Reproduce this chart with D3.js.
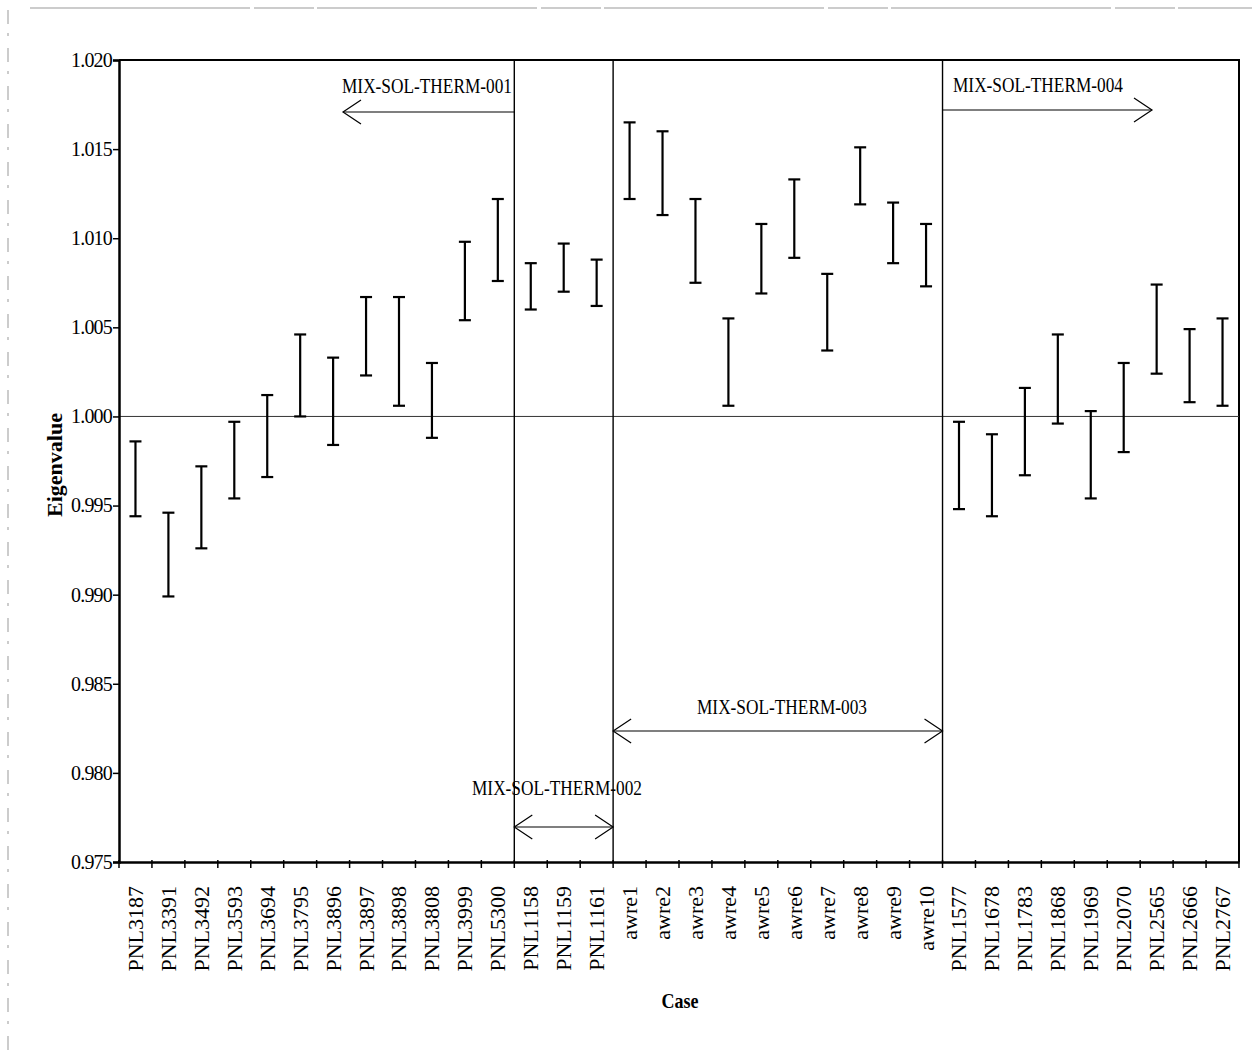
<!DOCTYPE html>
<html>
<head>
<meta charset="utf-8">
<script src="https://cdn.jsdelivr.net/npm/d3@7/dist/d3.min.js"></script>
<style>
  html, body { margin: 0; padding: 0; background: #fff; }
  svg { display: block; }
  text { font-family: "Liberation Serif", "Times New Roman", serif; fill: #000; }
</style>
</head>
<body>
<svg id="chart" width="1252" height="1060"></svg>
<script>
// ---- data ----
const categories = ["PNL3187","PNL3391","PNL3492","PNL3593","PNL3694","PNL3795","PNL3896","PNL3897","PNL3898","PNL3808","PNL3999","PNL5300",
  "PNL1158","PNL1159","PNL1161",
  "awre1","awre2","awre3","awre4","awre5","awre6","awre7","awre8","awre9","awre10",
  "PNL1577","PNL1678","PNL1783","PNL1868","PNL1969","PNL2070","PNL2565","PNL2666","PNL2767"];
const lower = [0.9944,0.9899,0.9926,0.9954,0.9966,1.0000,0.9984,1.0023,1.0006,0.9988,1.0054,1.0076,
  1.0060,1.0070,1.0062,
  1.0122,1.0113,1.0075,1.0006,1.0069,1.0089,1.0037,1.0119,1.0086,1.0073,
  0.9948,0.9944,0.9967,0.9996,0.9954,0.9980,1.0024,1.0008,1.0006];
const upper = [0.9986,0.9946,0.9972,0.9997,1.0012,1.0046,1.0033,1.0067,1.0067,1.0030,1.0098,1.0122,
  1.0086,1.0097,1.0088,
  1.0165,1.0160,1.0122,1.0055,1.0108,1.0133,1.0080,1.0151,1.0120,1.0108,
  0.9997,0.9990,1.0016,1.0046,1.0003,1.0030,1.0074,1.0049,1.0055];
const yTicks = [0.975,0.980,0.985,0.990,0.995,1.000,1.005,1.010,1.015,1.020];
const groupNames = ["MIX-SOL-THERM-001","MIX-SOL-THERM-002","MIX-SOL-THERM-003","MIX-SOL-THERM-004"];
const groupFirst = ["PNL3187","PNL1158","awre1","PNL1577"];
const groupLast  = ["PNL5300","PNL1161","awre10","PNL2767"];
const referenceValue = 1.000;

// ---- layout ----
const L = 119, R = 1239, T = 60, B = 862;
const svg = d3.select("#chart");

// scan-frame artefacts
svg.append("line").attr("x1", 30).attr("x2", 1252).attr("y1", 8).attr("y2", 8)
  .attr("stroke", "#999").attr("stroke-width", 1).attr("stroke-dasharray", "220,4,60,3");
svg.append("line").attr("x1", 8).attr("x2", 8).attr("y1", 10).attr("y2", 1050)
  .attr("stroke", "#999").attr("stroke-width", 1).attr("stroke-dasharray", "14,9,3,12");

const x = d3.scaleBand().domain(categories).range([L, R]).padding(0);
const y = d3.scaleLinear().domain([0.975, 1.020]).range([B, T]);
const bw = x.bandwidth();

// frame (top and right)
svg.append("line").attr("x1", L).attr("x2", R + 1).attr("y1", T).attr("y2", T)
  .attr("stroke", "#000").attr("stroke-width", 2);
svg.append("line").attr("x1", R).attr("x2", R).attr("y1", T).attr("y2", B)
  .attr("stroke", "#000").attr("stroke-width", 2);

// reference line at 1.000
svg.append("line").attr("x1", L).attr("x2", R).attr("y1", y(referenceValue)).attr("y2", y(referenceValue))
  .attr("stroke", "#333").attr("stroke-width", 1);

// group separators
const separators = [groupLast[0], groupLast[1], groupLast[2]];
svg.selectAll("line.sep").data(separators).enter().append("line")
  .attr("class", "sep")
  .attr("x1", d => x(d) + bw).attr("x2", d => x(d) + bw)
  .attr("y1", T).attr("y2", B)
  .attr("stroke", "#000").attr("stroke-width", 1.4);

// y axis
const yAxis = d3.axisLeft(y).tickValues(yTicks).tickFormat(d3.format(".3f")).tickSize(6).tickPadding(1);
const gy = svg.append("g").attr("transform", `translate(${L},0)`).call(yAxis);
gy.select(".domain").attr("stroke-width", 2.5);
gy.selectAll(".tick line").attr("stroke-width", 1.5);
gy.selectAll(".tick text").attr("font-size", 20).attr("letter-spacing", -0.8)
  .attr("font-family", "Liberation Serif").attr("fill", "#000");

// x axis: labels at band centers
const xAxis = d3.axisBottom(x).tickSize(0).tickPadding(0);
const gx = svg.append("g").attr("transform", `translate(0,${B})`).call(xAxis);
gx.select(".domain").attr("stroke-width", 2.5);
gx.selectAll(".tick text")
  .attr("font-size", 22).attr("font-family", "Liberation Serif").attr("fill", "#000")
  .attr("text-anchor", "end")
  .attr("transform", "translate(0,24) rotate(-90)")
  .attr("x", 0).attr("y", 0).attr("dy", "0.34em");

// x boundary ticks
const boundaries = categories.map(c => x(c)).concat([R]);
svg.selectAll("line.xtick").data(boundaries).enter().append("line")
  .attr("class", "xtick")
  .attr("x1", d => d).attr("x2", d => d)
  .attr("y1", B - 2).attr("y2", B + 6)
  .attr("stroke", "#000").attr("stroke-width", 1.5);

// error bars
const bars = svg.append("g").selectAll("g").data(categories).enter().append("g")
  .attr("transform", d => `translate(${x(d) + bw / 2},0)`);
bars.append("line").attr("x1", 0).attr("x2", 0)
  .attr("y1", (d, i) => y(upper[i])).attr("y2", (d, i) => y(lower[i]))
  .attr("stroke", "#000").attr("stroke-width", 2.2);
bars.append("line").attr("x1", -6).attr("x2", 6)
  .attr("y1", (d, i) => y(upper[i])).attr("y2", (d, i) => y(upper[i]))
  .attr("stroke", "#000").attr("stroke-width", 2.2);
bars.append("line").attr("x1", -6).attr("x2", 6)
  .attr("y1", (d, i) => y(lower[i])).attr("y2", (d, i) => y(lower[i]))
  .attr("stroke", "#000").attr("stroke-width", 2.2);

// annotations
const ann = svg.append("g").attr("stroke", "#000").attr("fill", "none").attr("stroke-width", 1.2);
function head(xt, yt, dir) {
  ann.append("path").attr("d", `M${xt - dir * 18},${yt - 12}L${xt},${yt}L${xt - dir * 18},${yt + 12}`);
}
const gStart = groupFirst.map(c => x(c));
const gEnd = groupLast.map(c => x(c) + bw);

const a1y = 112;
ann.append("line").attr("x1", gEnd[0]).attr("x2", 343).attr("y1", a1y).attr("y2", a1y);
head(343, a1y, -1);
const a2y = 827;
ann.append("line").attr("x1", gStart[1]).attr("x2", gEnd[1]).attr("y1", a2y).attr("y2", a2y);
head(gStart[1], a2y, -1); head(gEnd[1], a2y, 1);
const a3y = 731;
ann.append("line").attr("x1", gStart[2]).attr("x2", gEnd[2]).attr("y1", a3y).attr("y2", a3y);
head(gStart[2], a3y, -1); head(gEnd[2], a3y, 1);
const a4y = 110;
ann.append("line").attr("x1", gStart[3]).attr("x2", 1152).attr("y1", a4y).attr("y2", a4y);
head(1152, a4y, 1);

const annText = [
  {name: groupNames[0], x: 342, y: 93},
  {name: groupNames[1], x: 472, y: 795},
  {name: groupNames[2], x: 697, y: 714},
  {name: groupNames[3], x: 953, y: 92}
];
svg.selectAll("text.ann").data(annText).enter().append("text")
  .attr("class", "ann")
  .attr("x", d => d.x).attr("y", d => d.y)
  .attr("font-size", 20)
  .attr("textLength", 170).attr("lengthAdjust", "spacingAndGlyphs")
  .text(d => d.name);

// axis titles
svg.append("text")
  .attr("transform", "translate(62,465) rotate(-90)")
  .attr("text-anchor", "middle")
  .attr("font-size", 21).attr("font-weight", "bold")
  .attr("textLength", 104).attr("lengthAdjust", "spacingAndGlyphs")
  .text("Eigenvalue");
svg.append("text")
  .attr("x", 680).attr("y", 1008)
  .attr("text-anchor", "middle")
  .attr("font-size", 21).attr("font-weight", "bold")
  .attr("textLength", 37).attr("lengthAdjust", "spacingAndGlyphs")
  .text("Case");
</script>
</body>
</html>
